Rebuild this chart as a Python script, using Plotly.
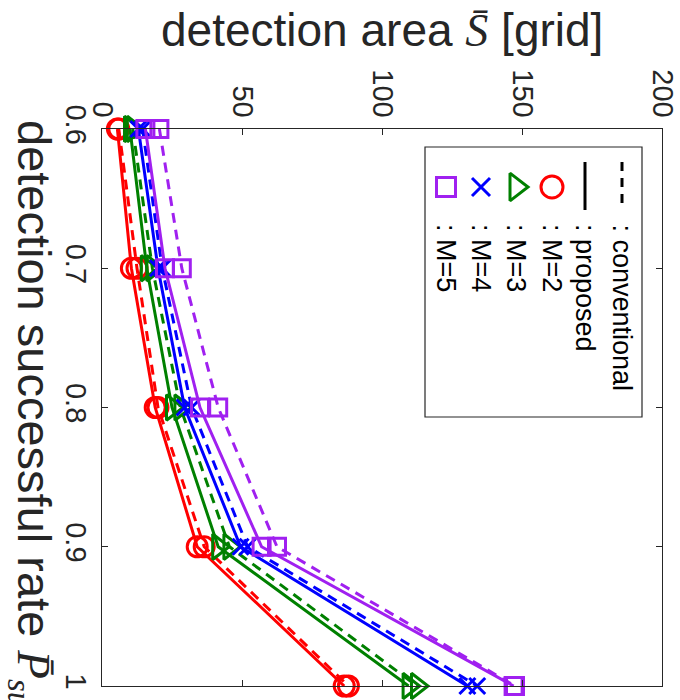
import plotly.graph_objects as go

# ---------------- data ----------------
rate = [0.6, 0.7, 0.8, 0.9, 1.0]
rate_ticks = ["0.6", "0.7", "0.8", "0.9", "1"]
area_ticks = [0, 50, 100, 150, 200]

proposed_M2 = [5.5, 10.5, 19.0, 34.0, 86.5]
proposed_M3 = [10.0, 16.0, 25.0, 41.5, 109.5]
proposed_M4 = [13.0, 20.0, 29.5, 49.5, 130.5]
proposed_M5 = [15.5, 22.5, 35.0, 57.0, 147.0]

conventional_M2 = [6.0, 12.5, 20.0, 36.5, 88.0]
conventional_M3 = [11.0, 18.0, 28.0, 45.5, 112.5]
conventional_M4 = [14.5, 21.5, 32.0, 52.0, 134.0]
conventional_M5 = [20.5, 28.5, 41.5, 62.5, 147.5]

series_names = ["M=2", "M=3", "M=4", "M=5"]
legend_labels = [": conventional", ": proposed", ": M=2", ": M=3", ": M=4", ": M=5"]

# ---------------- style ----------------
FONT = "Liberation Sans, Arial, sans-serif"
AXC = "#262626"
colors = ["#FF0000", "#008000", "#0000FF", "#A020F0"]
symbols = ["circle-open", "triangle-right-open", "x-thin-open", "square-open"]
msizes = [20, 22, 16, 17]

W, H = 680, 700
L, R, T, B = 102, 18, 129, 14
PW, PH = W - L - R, H - T - B


def paper_x(px):
    return (px - L) / PW


def paper_y(py):
    return 1 - (py - T) / PH


fig = go.Figure()

proposed = [proposed_M2, proposed_M3, proposed_M4, proposed_M5]
conventional = [conventional_M2, conventional_M3, conventional_M4, conventional_M5]

for i in range(4):
    for vals, dash in ((conventional[i], "10px,7px"), (proposed[i], "solid")):
        fig.add_trace(go.Scatter(
            x=vals, y=rate, mode="lines+markers",
            line=dict(color=colors[i], width=3, dash=dash),
            marker=dict(symbol=symbols[i], size=msizes[i], color=colors[i],
                        line=dict(color=colors[i], width=3)),
            showlegend=False, hoverinfo="skip", cliponaxis=False,
        ))

# ---------------- custom rotated legend (pixel overlay axes) ----------------
px_x = [L, W - R]
px_y = [H - B, T]
legend_cols = [622, 585, 552, 516, 481, 446]
sym_y = 187
for i in range(4):
    fig.add_trace(go.Scatter(
        x=[legend_cols[2 + i]], y=[sym_y], xaxis="x2", yaxis="y2", mode="markers",
        marker=dict(symbol=symbols[i], size=msizes[i] + 2, color=colors[i],
                    line=dict(color=colors[i], width=3)),
        showlegend=False, hoverinfo="skip", cliponaxis=False,
    ))

shapes = [
    dict(type="rect", xref="x2", yref="y2", x0=425, x1=642, y0=147, y1=417,
         line=dict(color=AXC, width=1.2), fillcolor="rgba(0,0,0,0)"),
    dict(type="line", xref="x2", yref="y2", x0=legend_cols[0], x1=legend_cols[0], y0=162, y1=210,
         line=dict(color="black", width=3, dash="9px,7px")),
    dict(type="line", xref="x2", yref="y2", x0=legend_cols[1], x1=legend_cols[1], y0=162, y1=210,
         line=dict(color="black", width=3)),
]

annotations = []
for xc, lab in zip(legend_cols, legend_labels):
    annotations.append(dict(
        x=xc, y=222, xref="x2", yref="y2", text=lab, textangle=90,
        showarrow=False, xanchor="center", yanchor="top",
        font=dict(family=FONT, size=27, color="black"),
    ))

# axis titles (rotated figure)
annotations.append(dict(
    x=paper_x(382), y=paper_y(2), xref="paper", yref="paper",
    text="detection area <span style=\"font-family:Liberation Serif\"><i>S̄</i></span> [grid]",
    showarrow=False, xanchor="center", yanchor="top",
    font=dict(family=FONT, size=46, color=AXC),
))
annotations.append(dict(
    x=paper_x(31), y=paper_y(118), xref="paper", yref="paper",
    text="detection successful rate <span style=\"font-family:Liberation Serif\"><i>P̄</i><sub><i>succ</i></sub></span>",
    showarrow=False, xanchor="center", yanchor="top", textangle=90,
    font=dict(family=FONT, size=47, color=AXC),
))

fig.update_layout(
    template="none",
    width=W, height=H,
    margin=dict(l=L, r=R, t=T, b=B, autoexpand=False),
    paper_bgcolor="white", plot_bgcolor="white",
    showlegend=False,
    shapes=shapes, annotations=annotations,
    xaxis=dict(
        range=[0, 200], side="top", tickvals=area_ticks,
        ticktext=[str(v) for v in area_ticks], tickangle=90,
        ticks="inside", ticklen=6, tickcolor=AXC, tickwidth=1,
        showline=True, linecolor=AXC, linewidth=1.2, mirror="allticks",
        showgrid=False, zeroline=False, automargin=False,
        tickfont=dict(family=FONT, size=29, color=AXC),
    ),
    yaxis=dict(
        range=[1.0, 0.6], tickvals=rate, ticktext=rate_ticks, tickangle=90,
        ticks="inside", ticklen=6, tickcolor=AXC, tickwidth=1,
        showline=True, linecolor=AXC, linewidth=1.2, mirror="allticks",
        showgrid=False, zeroline=False, automargin=False,
        tickfont=dict(family=FONT, size=29, color=AXC),
    ),
    xaxis2=dict(range=px_x, overlaying="x", visible=False, fixedrange=True, automargin=False),
    yaxis2=dict(range=px_y, overlaying="y", visible=False, fixedrange=True, automargin=False),
)

fig.write_html("out.html")
